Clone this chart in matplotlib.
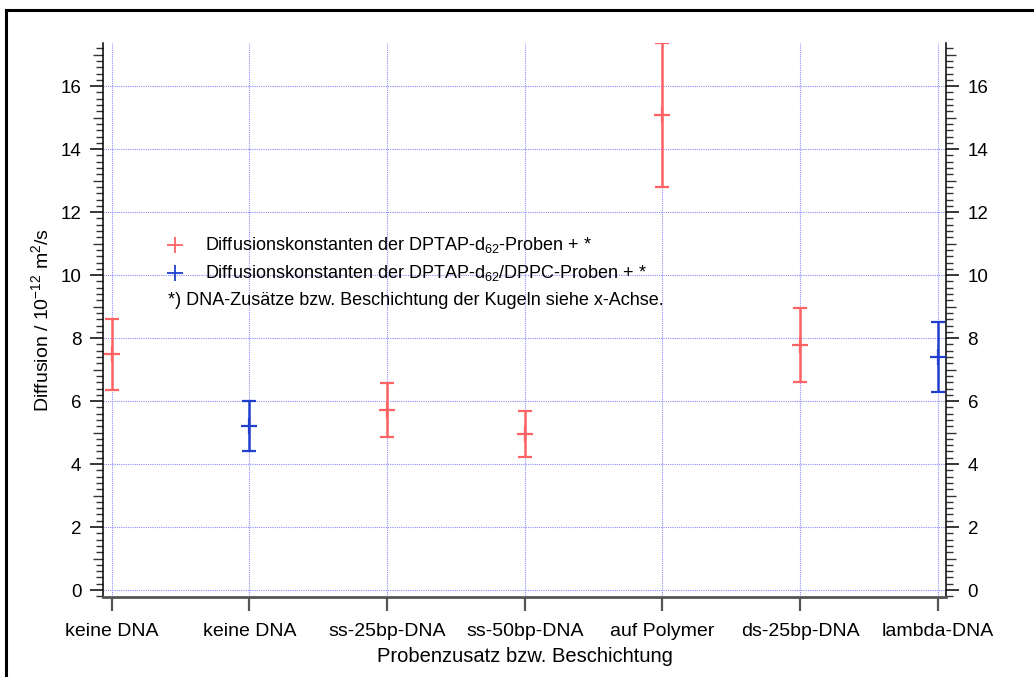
import numpy as np
import matplotlib
matplotlib.use("Agg")
import matplotlib.pyplot as plt
from matplotlib.ticker import MultipleLocator
from matplotlib.lines import Line2D

plt.rcParams['font.family'] = ['Liberation Sans', 'DejaVu Sans']
plt.rcParams['mathtext.default'] = 'regular'

# Probenzusatz / Beschichtung
categories = ["keine DNA", "keine DNA", "ss-25bp-DNA", "ss-50bp-DNA",
              "auf Polymer", "ds-25bp-DNA", "lambda-DNA"]

# DPTAP-d62 Proben (rot)
red_idx = [0, 2, 3, 4, 5]
red_val = [7.49, 5.72, 4.95, 15.08, 7.78]
red_err = [1.13, 0.86, 0.74, 2.29, 1.17]

# DPTAP-d62/DPPC Proben (blau)
blue_idx = [1, 6]
blue_val = [5.20, 7.40]
blue_err = [0.80, 1.10]

red = "#ff6262"
blue = "#1f3fcc"
grid_col = "#8c8cff"

fig = plt.figure(figsize=(10.34, 6.77), dpi=100)
ax = fig.add_axes([103/1034, 80/677, 843/1034, 554/677])

# Rahmen um die Grafik
fig.add_artist(Line2D([6/1034, 1.0], [1-10/677, 1-10/677], color="black", lw=2.2))
fig.add_artist(Line2D([6/1034, 6/1034], [0.0, 1-10/677], color="black", lw=2.2))

ax.errorbar(red_idx, red_val, yerr=red_err, fmt='+', color=red, ms=11, mew=1.6,
            elinewidth=1.8, capsize=5, capthick=1.6, zorder=3)
ax.errorbar(blue_idx, blue_val, yerr=blue_err, fmt='+', color=blue, ms=11, mew=1.6,
            elinewidth=1.8, capsize=5, capthick=1.6, zorder=3)

ax.set_xlim(-0.063, 6.059)
ax.set_ylim(-0.22, 17.37)

ax.set_xticks(range(len(categories)))
ax.set_xticklabels(categories, fontsize=14)
ax.yaxis.set_major_locator(MultipleLocator(2))
ax.yaxis.set_minor_locator(MultipleLocator(0.2))

ax.tick_params(axis='y', which='major', direction='out', length=9.5, width=1.1,
               labelsize=13.5, pad=6, left=True, right=True, labelleft=True, labelright=True)
ax.tick_params(axis='y', which='minor', direction='out', length=5, width=1.0,
               left=True, right=True, color="#333333")
ax.tick_params(axis='x', which='major', direction='out', length=10, width=1.6,
               color="#555555", pad=9)

# mittlere Ticks bei ungeraden ganzen Zahlen
for tick, loc in zip(ax.yaxis.get_minor_ticks(), ax.yaxis.get_minorticklocs()):
    if abs(loc - round(loc)) < 1e-6 and int(round(loc)) % 2 == 1:
        tick.tick1line.set_markersize(7.4)
        tick.tick2line.set_markersize(7.4)

ax.spines['top'].set_visible(False)
ax.spines['left'].set_linewidth(1.1)
ax.spines['right'].set_linewidth(1.1)
ax.spines['bottom'].set_color("#555555")
ax.spines['bottom'].set_linewidth(2.0)

ax.grid(True, which='major', color=grid_col, linestyle=(0, (1, 1)), linewidth=0.8)
ax.set_axisbelow(True)

ax.set_ylabel("Diffusion / 10$^{-12}$ m$^{2}$/s", fontsize=14, labelpad=6)
ax.set_xlabel("Probenzusatz bzw. Beschichtung", fontsize=14.5, labelpad=5)

# Legende
ax.plot([0.0854], [0.635], marker='+', ms=11, mew=1.3, color=red,
        transform=ax.transAxes, clip_on=False, ls='none')
ax.plot([0.0854], [0.585], marker='+', ms=11, mew=1.3, color=blue,
        transform=ax.transAxes, clip_on=False, ls='none')
ax.text(0.121, 0.635, "Diffusionskonstanten der DPTAP-d$_{62}$-Proben + *",
        transform=ax.transAxes, fontsize=13, va='center')
ax.text(0.121, 0.585, "Diffusionskonstanten der DPTAP-d$_{62}$/DPPC-Proben + *",
        transform=ax.transAxes, fontsize=13, va='center')
ax.text(0.077, 0.535, "*) DNA-Zusätze bzw. Beschichtung der Kugeln siehe x-Achse.",
        transform=ax.transAxes, fontsize=13, va='center')

fig.savefig("out.png", dpi=100)
